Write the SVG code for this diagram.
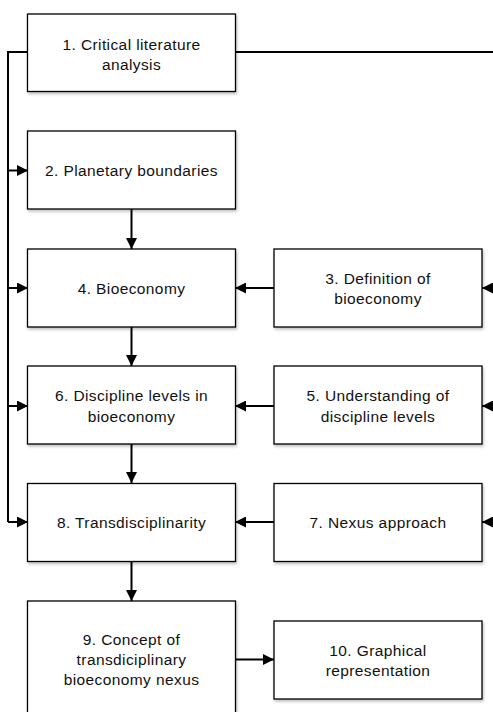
<svg xmlns="http://www.w3.org/2000/svg" width="493" height="712" viewBox="0 0 493 712">
  <defs>
    <filter id="shadow" x="-5%" y="-5%" width="115%" height="120%">
      <feGaussianBlur in="SourceAlpha" stdDeviation="1.5"/>
      <feOffset dx="1" dy="2" result="b"/>
      <feComponentTransfer><feFuncA type="linear" slope="0.25"/></feComponentTransfer>
      <feMerge><feMergeNode/><feMergeNode in="SourceGraphic"/></feMerge>
    </filter>
    <marker id="arrow" viewBox="0 0 11 11" refX="11" refY="5.5" markerWidth="11" markerHeight="11" markerUnits="userSpaceOnUse" orient="auto">
      <path d="M0,0 L11,5.5 L0,11 Z" fill="#000"/>
    </marker>
  </defs>
  <style>
    .box { fill: #fff; stroke: #000; stroke-width: 1.3; filter: url(#shadow); }
    .lbl { font-family: "Liberation Sans", Arial, sans-serif; font-size: 15.5px; fill: #111; text-anchor: middle; letter-spacing: 0.4px; }
    .conn { fill: none; stroke: #000; stroke-width: 2; }
    .arr { marker-end: url(#arrow); }
  </style>
  <rect width="493" height="712" fill="#fff"/>

  <g id="connectors">
    <!-- feed line from step 1 down the left side -->
    <polyline class="conn" points="28,52 8,52 8,522"/>
    <line class="conn arr" x1="8" y1="170.5" x2="28" y2="170.5"/>
    <line class="conn arr" x1="8" y1="288" x2="28" y2="288"/>
    <line class="conn arr" x1="8" y1="406" x2="28" y2="406"/>
    <line class="conn arr" x1="8" y1="522" x2="28" y2="522"/>
    <!-- feed line from step 1 out to the right -->
    <line class="conn" x1="235" y1="52" x2="493" y2="52"/>
    <line class="conn arr" x1="495" y1="288" x2="482" y2="288"/>
    <line class="conn arr" x1="495" y1="406" x2="482" y2="406"/>
    <line class="conn arr" x1="495" y1="522" x2="482" y2="522"/>
    <!-- main column -->
    <line class="conn arr" x1="131.5" y1="209" x2="131.5" y2="249"/>
    <line class="conn arr" x1="131.5" y1="327" x2="131.5" y2="366"/>
    <line class="conn arr" x1="131.5" y1="444" x2="131.5" y2="483"/>
    <line class="conn arr" x1="131.5" y1="562" x2="131.5" y2="601"/>
    <!-- side inputs -->
    <line class="conn arr" x1="274" y1="288" x2="235" y2="288"/>
    <line class="conn arr" x1="274" y1="406" x2="235" y2="406"/>
    <line class="conn arr" x1="274" y1="522" x2="235" y2="522"/>
    <line class="conn arr" x1="235" y1="659.5" x2="274" y2="659.5"/>
  </g>

  <g id="n1">
    <rect class="box" x="27.5" y="14" width="208" height="77.5"/>
    <text class="lbl" x="131.5" y="50">1. Critical literature</text>
    <text class="lbl" x="131.5" y="70">analysis</text>
  </g>
  <g id="n2">
    <rect class="box" x="27.5" y="131" width="208" height="78"/>
    <text class="lbl" x="131.5" y="176">2. Planetary boundaries</text>
  </g>
  <g id="n3">
    <rect class="box" x="274" y="249" width="208" height="78"/>
    <text class="lbl" x="378" y="284">3. Definition of</text>
    <text class="lbl" x="378" y="304">bioeconomy</text>
  </g>
  <g id="n4">
    <rect class="box" x="27.5" y="249" width="208" height="78"/>
    <text class="lbl" x="131.5" y="294">4. Bioeconomy</text>
  </g>
  <g id="n5">
    <rect class="box" x="274" y="366" width="208" height="78"/>
    <text class="lbl" x="378" y="401">5. Understanding of</text>
    <text class="lbl" x="378" y="422">discipline levels</text>
  </g>
  <g id="n6">
    <rect class="box" x="27.5" y="366" width="208" height="78"/>
    <text class="lbl" x="131.5" y="401">6. Discipline levels in</text>
    <text class="lbl" x="131.5" y="422">bioeconomy</text>
  </g>
  <g id="n7">
    <rect class="box" x="274" y="483.5" width="208" height="78"/>
    <text class="lbl" x="378" y="528">7. Nexus approach</text>
  </g>
  <g id="n8">
    <rect class="box" x="27.5" y="483.5" width="208" height="78"/>
    <text class="lbl" x="131.5" y="528">8. Transdisciplinarity</text>
  </g>
  <g id="n9">
    <rect class="box" x="27.5" y="601" width="208" height="120"/>
    <text class="lbl" x="131.5" y="645">9. Concept of</text>
    <text class="lbl" x="131.5" y="665">transdiciplinary</text>
    <text class="lbl" x="131.5" y="685">bioeconomy nexus</text>
  </g>
  <g id="n10">
    <rect class="box" x="274" y="621" width="208" height="78"/>
    <text class="lbl" x="378" y="656">10. Graphical</text>
    <text class="lbl" x="378" y="676">representation</text>
  </g>
</svg>
